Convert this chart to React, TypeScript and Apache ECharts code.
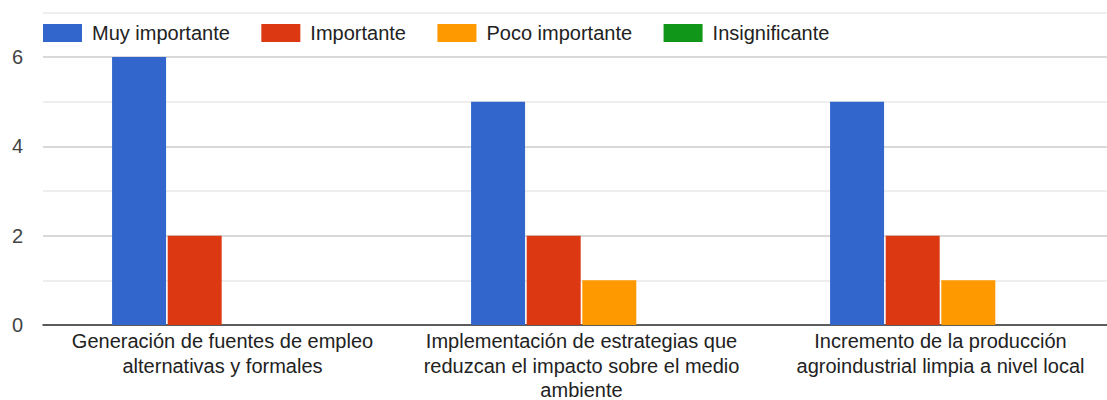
import React, { useEffect, useRef } from "react";
import * as echarts from "echarts";

const categories = [
  "Generación de fuentes de empleo\nalternativas y formales",
  "Implementación de estrategias que\nreduzcan el impacto sobre el medio\nambiente",
  "Incremento de la producción\nagroindustrial limpia a nivel local",
];
const seriesNames = ["Muy importante", "Importante", "Poco importante", "Insignificante"];
const muyImportante = [6, 5, 5];
const importante = [2, 2, 2];
const pocoImportante = [0, 1, 1];
const insignificante = [0, 0, 0];
const colors = ["#3366cc", "#dc3912", "#ff9900", "#109618"];
const yTickLabels = ["0", "2", "4", "6"];

export default function App() {
  const ref = useRef<HTMLDivElement>(null);
  useEffect(() => {
    if (!ref.current) return;
    const chart = echarts.init(ref.current, null, { renderer: "svg" });
    const values = [muyImportante, importante, pocoImportante, insignificante];
    chart.setOption({
      animation: false,
      color: colors,
      textStyle: { fontFamily: "Liberation Sans, Arial, sans-serif" },
      legend: {
        left: 43,
        top: 23,
        padding: 0,
        itemWidth: 39,
        itemHeight: 18,
        itemGap: 31.5,
        icon: "rect",
        textStyle: { fontSize: 20, color: "#222", padding: [0, 0, 0, 5] },
        data: seriesNames,
      },
      grid: {
        left: 43,
        top: 12.3,
        width: 1077,
        bottom: 75,
        containLabel: false,
        outerBoundsMode: "none",
      },
      xAxis: {
        type: "category",
        data: categories,
        axisTick: { show: false },
        axisLine: { lineStyle: { color: "#333", width: 1.5 } },
        axisLabel: {
          fontSize: 20,
          lineHeight: 24.5,
          color: "#222",
          margin: 4,
          interval: 0,
          align: "center",
        },
      },
      yAxis: {
        type: "value",
        min: 0,
        max: 7,
        interval: 1,
        axisLine: { show: false },
        axisTick: { show: false },
        axisLabel: {
          fontSize: 20,
          color: "#444",
          margin: 20,
          formatter: (v: number) => (yTickLabels.includes(String(v)) ? String(v) : ""),
        },
        splitLine: { lineStyle: { color: ["#cccccc", "#e8e8e8"], width: 1.5 } },
      },
      series: seriesNames.map((name, i) => ({
        name,
        type: "bar",
        data: values[i],
        barWidth: 54,
        barGap: "3%",
        itemStyle: { color: colors[i] },
      })),
    });
    return () => chart.dispose();
  }, []);
  return (
    <div
      ref={ref}
      style={{ position: "fixed", left: 0, top: 0, width: 1107, height: 400, background: "#fff" }}
    />
  );
}
